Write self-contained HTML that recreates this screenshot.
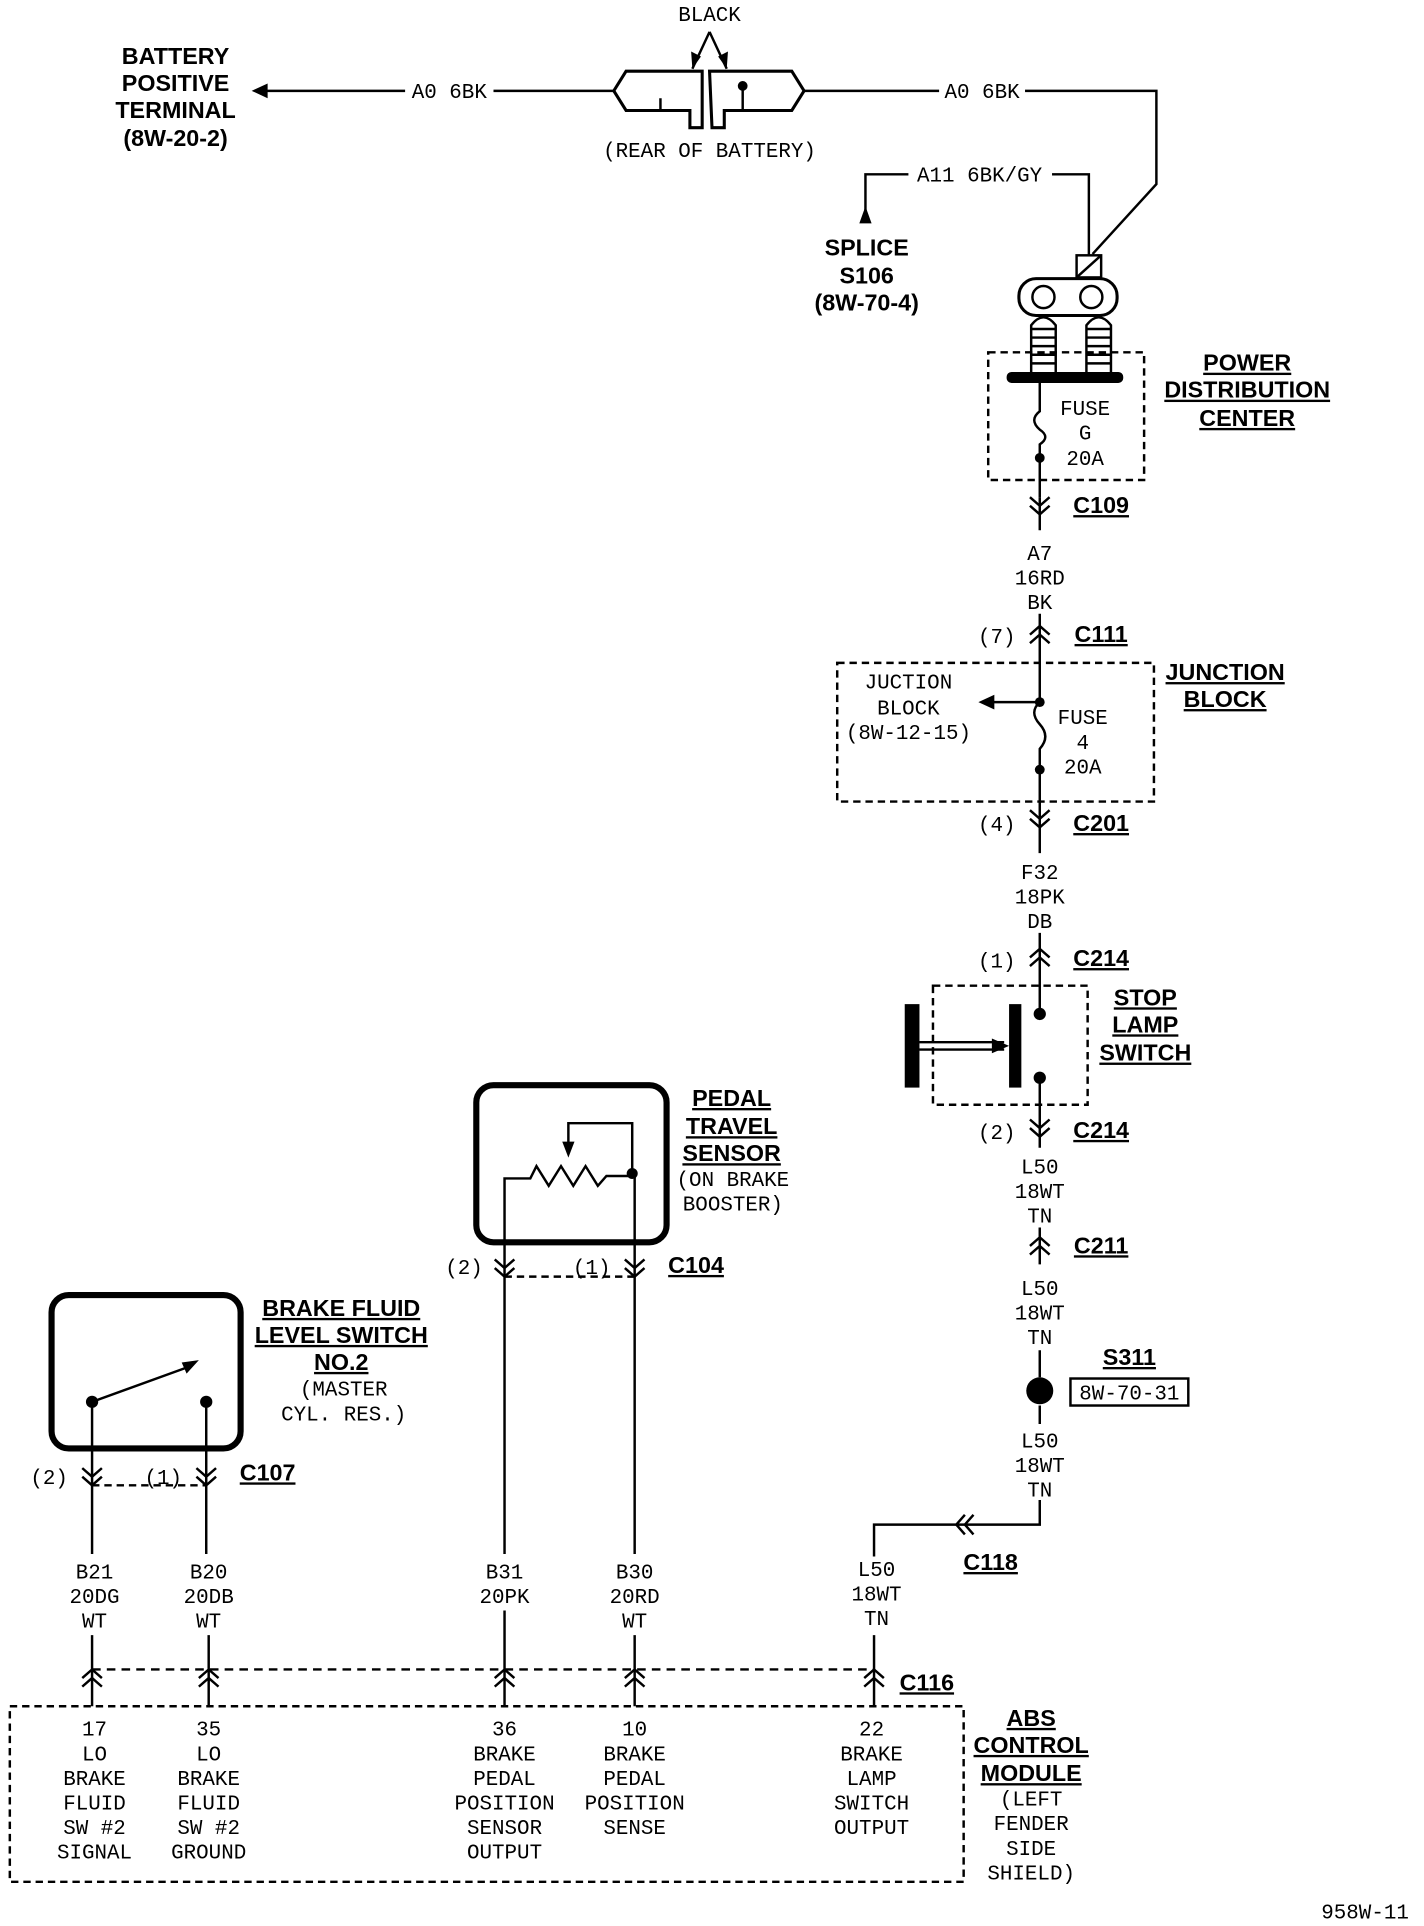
<!DOCTYPE html>
<html><head><meta charset="utf-8"><style>
html,body{margin:0;padding:0;background:#fff;}
svg{display:block;}
text{font-family:"Liberation Mono",monospace;font-size:17px;fill:#000;text-anchor:middle;}
.b{font-family:"Liberation Sans",sans-serif;font-weight:bold;font-size:19px;}
.u{text-decoration:underline;}
</style></head><body>
<svg width="1424" height="1926" viewBox="0 0 1160 1569" preserveAspectRatio="none" xmlns="http://www.w3.org/2000/svg">
<g fill="none" stroke="#000" stroke-width="2">
<path d="M212,74 H330 M402,74 H500 M655,74 H765 M835,74 H942 V150 L890,207"/>
<path d="M705,178 V142 H740 M857,142 H887 V208"/>
<path d="M510,58 H572 V104 H562 V90 H510 L500,74 Z" stroke-width="2.5"/>
<path d="M578,58 H645 L655,74 L645,90 H590 V104 H580 Z" stroke-width="2.5"/>
<path d="M538,80 V90 M605,70 V90"/>
<path d="M578,26 L564,56 M578,26 L592,56"/>
<rect x="877" y="208" width="20" height="18"/>
<path d="M877,226 L897,208"/>
<rect x="830" y="227" width="80" height="30" rx="14" stroke-width="2.5"/>
<circle cx="850" cy="242" r="9"/><circle cx="889" cy="242" r="9"/>
<path d="M840,305 V265 Q850,252 860,265 V305 M885,305 V265 Q895,252 905,265 V305"/>
<path d="M840,268 H860 M840,275 H860 M840,282 H860 M840,289 H860 M840,296 H860 M885,268 H905 M885,275 H905 M885,282 H905 M885,289 H905 M885,296 H905"/>
<rect x="805" y="287" width="127" height="104" stroke-dasharray="6,4"/>
<path d="M847,311 V335 Q838,342 847,350 Q856,356 847,362 V405"/>
<path d="M847,405 V432 M847,500 V525 M847,525 V572 Q838,580 847,590 Q856,600 847,610 V660 M847,660 V695 M847,760 V826 M847,878 V935 M847,1000 V1030 M847,1100 V1122 M847,1145 V1160 M847,1222 V1242 H712 V1268"/>
<path d="M839,405 L847,412 L855,405 M839,412 L847,419 L855,412"/>
<path d="M839,517 L847,510 L855,517 M839,524 L847,517 L855,524"/>
<path d="M839,660 L847,667 L855,660 M839,667 L847,674 L855,667"/>
<path d="M839,780 L847,773 L855,780 M839,787 L847,780 L855,787"/>
<path d="M839,912 L847,919 L855,912 M839,919 L847,926 L855,919"/>
<path d="M839,1015 L847,1008 L855,1015 M839,1022 L847,1015 L855,1022"/>
<path d="M786,1234 L779,1242 L786,1250 M793,1234 L786,1242 L793,1250"/>
<rect x="682" y="540" width="258" height="113" stroke-dasharray="6,4"/>
<path d="M847,572 H808"/>
<rect x="760" y="803" width="126" height="97" stroke-dasharray="6,4"/>
<path d="M749,849 H818 M749,855 H818"/>
<rect x="872" y="1123" width="96" height="22"/>
<path d="M75,1360 H712" stroke-dasharray="7,5"/>
<rect x="8" y="1390" width="777" height="143" stroke-dasharray="6,4"/>
<path d="M75,1332 V1390 M170,1332 V1390 M411,1312 V1390 M517,1332 V1390 M712,1332 V1390"/>
<path d="M67,1367 L75,1360 L83,1367 M67,1374 L75,1367 L83,1374 M162,1367 L170,1360 L178,1367 M162,1374 L170,1367 L178,1374 M403,1367 L411,1360 L419,1367 M403,1374 L411,1367 L419,1374 M509,1367 L517,1360 L525,1367 M509,1374 L517,1367 L525,1374 M704,1367 L712,1360 L720,1367 M704,1374 L712,1367 L720,1374"/>
<rect x="42" y="1055" width="154" height="125" rx="14" stroke-width="5"/>
<path d="M75,1142 V1266 M168,1142 V1266 M75,1142 L155,1113"/>
<path d="M75,1210 H168" stroke-dasharray="6,4"/>
<path d="M67,1196 L75,1203 L83,1196 M67,1203 L75,1210 L83,1203 M160,1196 L168,1203 L176,1196 M160,1203 L168,1210 L176,1203"/>
<rect x="388" y="884" width="155" height="128" rx="14" stroke-width="5"/>
<path d="M411,1266 V960 H432 L437,950 L447,966 L457,950 L467,966 L477,950 L487,966 L494,958 H515 V915 H463 V935 M517,956 V1266"/>
<path d="M411,1040 H517" stroke-dasharray="6,4"/>
<path d="M403,1026 L411,1033 L419,1026 M403,1033 L411,1040 L419,1033 M509,1026 L517,1033 L525,1026 M509,1033 L517,1040 L525,1033"/>
</g>
<g fill="#000">
<path d="M205,74 L218,68 L218,80 Z"/>
<path d="M564,56 L563,42 L571,46 Z M592,56 L585,46 L593,42 Z"/>
<path d="M705,168 L700,182 L710,182 Z"/>
<rect x="820" y="303" width="95" height="9" rx="4"/>
<circle cx="605" cy="70" r="4"/>
<circle cx="847" cy="373" r="4"/>
<circle cx="847" cy="572" r="4"/><circle cx="847" cy="627" r="4"/>
<path d="M797,572 L810,566 L810,578 Z"/>
<rect x="737" y="818" width="12" height="68"/>
<rect x="822" y="818" width="10" height="68"/>
<path d="M822,852 L808,846 L808,858 Z"/>
<circle cx="847" cy="826" r="5"/><circle cx="847" cy="878" r="5"/>
<circle cx="847" cy="1133" r="11"/>
<circle cx="75" cy="1142" r="5"/><circle cx="168" cy="1142" r="5"/>
<path d="M162,1108 L148,1110 L152,1119 Z"/>
<circle cx="515" cy="956" r="4.5"/>
<path d="M463,943 L458,930 L468,930 Z"/>
</g>
<text class="b" x="143" y="52">BATTERY</text>
<text class="b" x="143" y="74">POSITIVE</text>
<text class="b" x="143" y="96">TERMINAL</text>
<text class="b" x="143" y="119">(8W-20-2)</text>
<text class="b" x="706" y="208">SPLICE</text>
<text class="b" x="706" y="231">S106</text>
<text class="b" x="706" y="253">(8W-70-4)</text>
<text class="b u" x="1016" y="302">POWER</text>
<text class="b u" x="1016" y="324">DISTRIBUTION</text>
<text class="b u" x="1016" y="347">CENTER</text>
<text class="b u" x="897" y="418">C109</text>
<text class="b u" x="897" y="523">C111</text>
<text class="b u" x="998" y="554">JUNCTION</text>
<text class="b u" x="998" y="576">BLOCK</text>
<text class="b u" x="897" y="677">C201</text>
<text class="b u" x="897" y="787">C214</text>
<text class="b u" x="933" y="819">STOP</text>
<text class="b u" x="933" y="841">LAMP</text>
<text class="b u" x="933" y="864">SWITCH</text>
<text class="b u" x="897" y="927">C214</text>
<text class="b u" x="897" y="1021">C211</text>
<text class="b u" x="920" y="1112">S311</text>
<text class="b u" x="807" y="1279">C118</text>
<text class="b u" x="755" y="1377">C116</text>
<text class="b u" x="840" y="1406">ABS</text>
<text class="b u" x="840" y="1428">CONTROL</text>
<text class="b u" x="840" y="1451">MODULE</text>
<text class="b u" x="596" y="901">PEDAL</text>
<text class="b u" x="596" y="924">TRAVEL</text>
<text class="b u" x="596" y="946">SENSOR</text>
<text class="b u" x="567" y="1037">C104</text>
<text class="b u" x="278" y="1072">BRAKE FLUID</text>
<text class="b u" x="278" y="1094">LEVEL SWITCH</text>
<text class="b u" x="278" y="1116">NO.2</text>
<text class="b u" x="218" y="1206">C107</text>
<text x="578" y="17">BLACK</text>
<text x="366" y="80">A0 6BK</text>
<text x="800" y="80">A0 6BK</text>
<text x="578" y="128">(REAR OF BATTERY)</text>
<text x="798" y="148">A11 6BK/GY</text>
<text x="884" y="338">FUSE</text>
<text x="884" y="358">G</text>
<text x="884" y="379">20A</text>
<text x="847" y="456">A7</text>
<text x="847" y="476">16RD</text>
<text x="847" y="496">BK</text>
<text x="812" y="524">(7)</text>
<text x="740" y="561">JUCTION</text>
<text x="740" y="582">BLOCK</text>
<text x="740" y="602">(8W-12-15)</text>
<text x="882" y="590">FUSE</text>
<text x="882" y="610">4</text>
<text x="882" y="630">20A</text>
<text x="812" y="677">(4)</text>
<text x="847" y="716">F32</text>
<text x="847" y="736">18PK</text>
<text x="847" y="756">DB</text>
<text x="812" y="788">(1)</text>
<text x="812" y="928">(2)</text>
<text x="847" y="956">L50</text>
<text x="847" y="976">18WT</text>
<text x="847" y="996">TN</text>
<text x="847" y="1055">L50</text>
<text x="847" y="1075">18WT</text>
<text x="847" y="1095">TN</text>
<text x="920" y="1140">8W-70-31</text>
<text x="847" y="1179">L50</text>
<text x="847" y="1199">18WT</text>
<text x="847" y="1219">TN</text>
<text x="714" y="1284">L50</text>
<text x="714" y="1304">18WT</text>
<text x="714" y="1324">TN</text>
<text x="597" y="966">(ON BRAKE</text>
<text x="597" y="986">BOOSTER)</text>
<text x="378" y="1038">(2)</text>
<text x="482" y="1038">(1)</text>
<text x="280" y="1137">(MASTER</text>
<text x="280" y="1157">CYL. RES.)</text>
<text x="40" y="1209">(2)</text>
<text x="133" y="1209">(1)</text>
<text x="77" y="1286">B21</text><text x="77" y="1306">20DG</text><text x="77" y="1326">WT</text>
<text x="170" y="1286">B20</text><text x="170" y="1306">20DB</text><text x="170" y="1326">WT</text>
<text x="411" y="1286">B31</text><text x="411" y="1306">20PK</text>
<text x="517" y="1286">B30</text><text x="517" y="1306">20RD</text><text x="517" y="1326">WT</text>
<text x="77" y="1414">17</text><text x="77" y="1434">LO</text><text x="77" y="1454">BRAKE</text><text x="77" y="1474">FLUID</text><text x="77" y="1494">SW #2</text><text x="77" y="1514">SIGNAL</text>
<text x="170" y="1414">35</text><text x="170" y="1434">LO</text><text x="170" y="1454">BRAKE</text><text x="170" y="1474">FLUID</text><text x="170" y="1494">SW #2</text><text x="170" y="1514">GROUND</text>
<text x="411" y="1414">36</text><text x="411" y="1434">BRAKE</text><text x="411" y="1454">PEDAL</text><text x="411" y="1474">POSITION</text><text x="411" y="1494">SENSOR</text><text x="411" y="1514">OUTPUT</text>
<text x="517" y="1414">10</text><text x="517" y="1434">BRAKE</text><text x="517" y="1454">PEDAL</text><text x="517" y="1474">POSITION</text><text x="517" y="1494">SENSE</text>
<text x="710" y="1414">22</text><text x="710" y="1434">BRAKE</text><text x="710" y="1454">LAMP</text><text x="710" y="1474">SWITCH</text><text x="710" y="1494">OUTPUT</text>
<text x="840" y="1471">(LEFT</text><text x="840" y="1491">FENDER</text><text x="840" y="1511">SIDE</text><text x="840" y="1531">SHIELD)</text>
<text x="1112" y="1563">958W-11</text>
</svg>
</body></html>
